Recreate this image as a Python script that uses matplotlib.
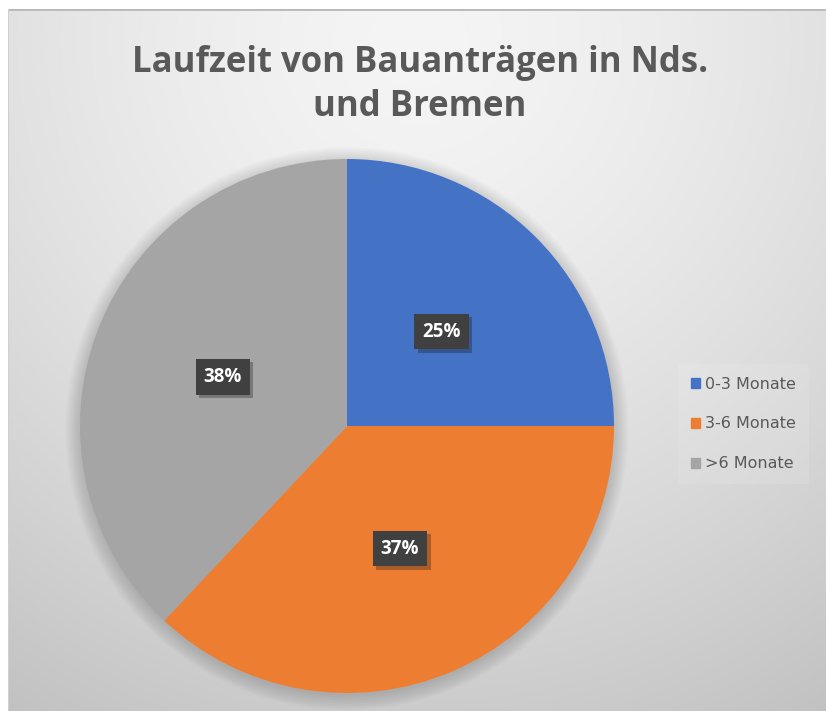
import matplotlib.pyplot as plt
import matplotlib.patheffects as pe
import numpy as np

# data -----------------------------------------------------------------------------------------------------------
title = 'Laufzeit von Bauanträgen in Nds.\nund Bremen'
categories = ['0-3 Monate', '3-6 Monate', '>6 Monate']
shares = [25, 37, 38]
colors = ['#4472c4', '#ed7d31', '#a5a5a5']

W, H = 826, 711
fig = plt.figure(figsize=(W / 100, H / 100), dpi=100)
fig.patch.set_facecolor('white')

# background gradient (chart area) -------------------------------------------------------------------------------
bg = fig.add_axes([8 / W, 0, (W - 8) / W, (H - 9) / H])
bg.set_axis_off()
yy, xx = np.mgrid[0:H - 9, 0:W - 8]
d = np.hypot(xx - 410, yy - 30)
shade = 0.96 - 0.17 * np.clip(d / 700, 0, 1.2) ** 1.5
bg.imshow(np.dstack([shade] * 3), aspect='auto', extent=[0, 1, 0, 1])
bg.plot([0, 1], [1, 1], color='#b8b8b8', lw=2, transform=bg.transAxes)
bg.plot([0, 0], [0, 1], color='#d0d0d0', lw=1.5, transform=bg.transAxes)

fig.text(0.508, 0.880, title, ha='center', va='center', fontsize=25, fontweight='bold',
         color='#595959', family='Open Sans', linespacing=1.3)

# pie ------------------------------------------------------------------------------------------------------------
cx, cy, r = 347, 426, 267
ax = fig.add_axes([(cx - r) / W, (H - cy - r) / H, 2 * r / W, 2 * r / H])
ax.set_axis_off()

# soft shadow around the pie
for k in range(10):
    ax.add_patch(plt.Circle((0, -0.01), 1.0 + 0.006 * k, color='black', alpha=0.016, lw=0,
                            zorder=0, clip_on=False))

wedges, texts = ax.pie(shares, colors=colors, startangle=90, counterclock=False,
                       labels=[f'{v}%' for v in shares], labeldistance=0.5,
                       radius=1, frame=True)
ax.set_xlim(-1, 1)
ax.set_ylim(-1, 1)
ax.set_axis_off()
for w in wedges:
    w.set_zorder(2)
for t in texts:
    t.set_ha('center')
    t.set_va('center')
    t.set_color('white')
    t.set_fontsize(13.5)
    t.set_fontweight('bold')
    t.set_family('Open Sans')
    t.set_zorder(5)
    t.set_bbox(dict(boxstyle='square,pad=0.42', fc='#404040', ec='none'))
    t.get_bbox_patch().set_path_effects([pe.SimplePatchShadow(offset=(2.5, -2.5), alpha=0.3), pe.Normal()])

# legend ---------------------------------------------------------------------------------------------------------
handles = [plt.Rectangle((0, 0), 1, 1, color=c) for c in colors]
leg = fig.legend(handles, categories, loc='center left', bbox_to_anchor=(670 / W, 1 - 424 / H),
                 frameon=True, labelcolor='#595959', handlelength=0.6, handleheight=0.6,
                 handletextpad=0.3, labelspacing=1.55, borderpad=0.8, fancybox=False,
                 prop={'family': 'DejaVu Sans', 'size': 11.5})
leg.get_frame().set_facecolor('white')
leg.get_frame().set_alpha(0.1)
leg.get_frame().set_edgecolor('none')

fig.savefig('out.png', dpi=100)
